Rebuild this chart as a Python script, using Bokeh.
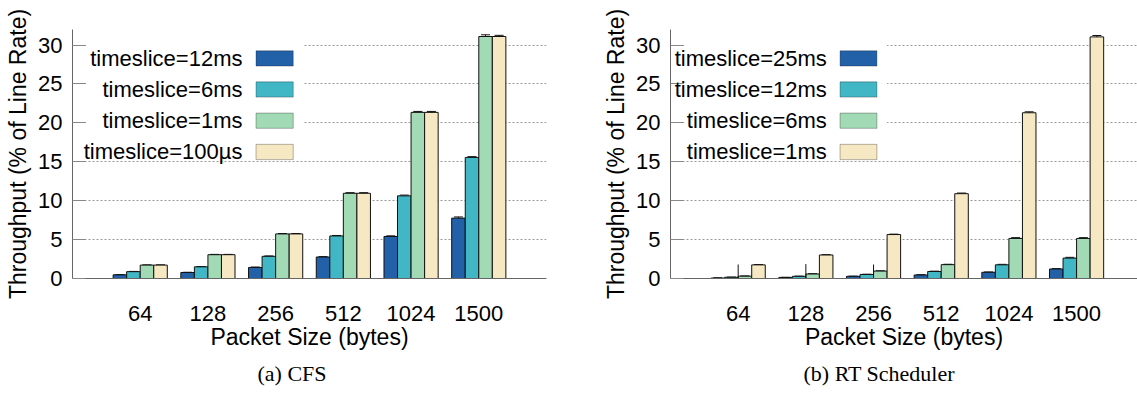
from bokeh.plotting import figure
from bokeh.layouts import row
from bokeh.models import (ColumnDataSource, FixedTicker, Label, BoxAnnotation,
                          Whisker, TeeHead, Title, Range1d)
from bokeh.embed import file_html
from bokeh.resources import INLINE

# ---------------- data ----------------
sizes = ["64", "128", "256", "512", "1024", "1500"]
y_ticks = [0, 5, 10, 15, 20, 25, 30]

cfs_labels = ["timeslice=12ms", "timeslice=6ms", "timeslice=1ms", "timeslice=100µs"]
cfs_12ms = [0.47, 0.77, 1.42, 2.76, 5.40, 7.76]
cfs_6ms = [0.88, 1.50, 2.85, 5.47, 10.62, 15.56]
cfs_1ms = [1.72, 3.06, 5.73, 10.95, 21.35, 31.10]
cfs_100us = [1.72, 3.06, 5.73, 10.95, 21.35, 31.10]
cfs_12ms_err = [0.03, 0.03, 0.05, 0.05, 0.08, 0.15]
cfs_6ms_err = [0.03, 0.04, 0.05, 0.06, 0.10, 0.10]
cfs_1ms_err = [0.03, 0.04, 0.05, 0.08, 0.12, 0.22]
cfs_100us_err = [0.03, 0.04, 0.05, 0.08, 0.12, 0.15]

rt_labels = ["timeslice=25ms", "timeslice=12ms", "timeslice=6ms", "timeslice=1ms"]
rt_25ms = [0.06, 0.14, 0.28, 0.45, 0.80, 1.22]
rt_12ms = [0.16, 0.28, 0.52, 0.90, 1.76, 2.62]
rt_6ms = [0.30, 0.58, 0.95, 1.78, 5.15, 5.15]
rt_1ms = [1.75, 3.02, 5.65, 10.90, 21.30, 31.05]
rt_25ms_err = [0.01, 0.01, 0.02, 0.03, 0.04, 0.05]
rt_12ms_err = [0.01, 0.02, 0.03, 0.04, 0.06, 0.10]
rt_6ms_err = [0.02, 0.03, 0.04, 0.05, 0.10, 0.10]
rt_1ms_err = [0.03, 0.04, 0.05, 0.08, 0.12, 0.18]
# unusually large spread drawn for the first three packet sizes
rt_spread_sizes = ["64", "128", "256"]
rt_spread_hi = [1.80, 1.85, 1.80]

colors = ["#2260a8", "#41b6c4", "#a1dab4", "#f6e8c3"]

FONT = "Liberation Sans"


def make_chart(series, errs, labels, caption, cap_offset, x_end, border_left,
               border_right, width, leg_text_x, leg_sw, leg_box, spread=None):
    p = figure(width=width, height=402, output_backend="svg", toolbar_location=None,
               x_range=Range1d(-1, x_end), y_range=Range1d(0, 32),
               min_border_left=border_left, min_border_right=border_right,
               min_border_top=29, min_border_bottom=124)
    p.outline_line_color = None
    p.background_fill_color = "white"
    p.border_fill_color = "white"

    offsets = [-0.3, -0.1, 0.1, 0.3]
    for k, (vals, err) in enumerate(zip(series, errs)):
        src = ColumnDataSource(dict(
            x=[i + offsets[k] for i in range(len(sizes))],
            top=vals,
            upper=[v + e for v, e in zip(vals, err)],
            lower=[v - e for v, e in zip(vals, err)],
        ))
        p.vbar(x="x", top="top", bottom=0, width=0.2, source=src,
               fill_color=colors[k], line_color="#111111", line_width=1)
        w = Whisker(source=src, base="x", upper="upper", lower="lower",
                    dimension="height", line_color="#111111", line_width=1,
                    upper_head=TeeHead(size=9, line_color="#111111", line_width=1),
                    lower_head=TeeHead(size=9, line_color="#111111", line_width=1))
        p.add_layout(w)

    if spread is not None:
        sz, hi = spread
        ssrc = ColumnDataSource(dict(x=[sizes.index(s) for s in sz],
                                     y0=[0] * len(sz), y1=hi))
        p.segment(x0="x", y0="y0", x1="x", y1="y1", source=ssrc,
                  line_color="#111111", line_width=1)

    # axes
    p.xaxis.ticker = FixedTicker(ticks=list(range(len(sizes))))
    p.xaxis.major_label_overrides = {i: s for i, s in enumerate(sizes)}
    p.xaxis.major_tick_line_color = None
    p.xaxis.minor_tick_line_color = None
    p.xaxis.major_label_standoff = 21
    p.xaxis.axis_label = "Packet Size (bytes)"
    p.xaxis.axis_label_standoff = 0
    p.xaxis.axis_line_color = "#666666"

    p.yaxis.ticker = FixedTicker(ticks=y_ticks)
    p.yaxis.major_tick_in = 13
    p.yaxis.major_tick_out = 0
    p.yaxis.major_tick_line_color = "#888888"
    p.yaxis.minor_tick_line_color = None
    p.yaxis.major_label_standoff = 10
    p.yaxis.axis_label = "Throughput (% of Line Rate)"
    p.yaxis.axis_label_standoff = 4
    p.yaxis.axis_line_color = "#666666"

    for ax in (p.xaxis[0], p.yaxis[0]):
        ax.major_label_text_font = FONT
        ax.major_label_text_font_size = "22px"
        ax.major_label_text_color = "black"
        ax.axis_label_text_font = FONT
        ax.axis_label_text_font_size = "23px"
        ax.axis_label_text_font_style = "normal"
        ax.axis_label_text_color = "black"

    p.xgrid.grid_line_color = None
    p.ygrid.ticker = FixedTicker(ticks=y_ticks[1:])
    p.ygrid.grid_line_color = "#999999"
    p.ygrid.grid_line_dash = "2 2"
    p.ygrid.grid_line_width = 1

    # legend (text on the left, swatch on the right)
    bl, br, bb, bt = leg_box
    p.add_layout(BoxAnnotation(left=bl, right=br, bottom=bb, top=bt,
                               fill_color="white", fill_alpha=1.0,
                               line_color=None, level="underlay"))
    ys = [28.28, 24.29, 20.28, 16.26]
    for k, lab in enumerate(labels):
        p.add_layout(Label(x=leg_text_x, y=ys[k], text=lab, text_align="right",
                           text_baseline="middle", text_font=FONT,
                           text_font_size="22px", text_color="black"))
        p.add_layout(BoxAnnotation(left=leg_sw[0], right=leg_sw[1],
                                   bottom=ys[k] - 0.98, top=ys[k] + 0.98,
                                   fill_color=colors[k], fill_alpha=1.0,
                                   line_color="#111111", line_width=1))

    p.add_layout(Title(text=caption, align="left", text_font="Liberation Serif",
                       text_font_size="22px", text_font_style="normal",
                       text_color="black", standoff=12, offset=cap_offset), "below")
    return p


p1 = make_chart([cfs_12ms, cfs_6ms, cfs_1ms, cfs_100us],
                [cfs_12ms_err, cfs_6ms_err, cfs_1ms_err, cfs_100us_err],
                cfs_labels, "(a) CFS", 185, 6.0, 72, 22, 568,
                1.51, (1.71, 2.26), (-0.8, 2.41, 15.25, 31.5))
p2 = make_chart([rt_25ms, rt_12ms, rt_6ms, rt_1ms],
                [rt_25ms_err, rt_12ms_err, rt_6ms_err, rt_1ms_err],
                rt_labels, "(b) RT Scheduler", 133, 5.9, 102, 0, 569,
                1.31, (1.505, 2.05), (-0.8, 2.2, 15.25, 31.5),
                spread=(rt_spread_sizes, rt_spread_hi))

layout = row(p1, p2, spacing=0)
open("out.html", "w").write(file_html(layout, INLINE))
